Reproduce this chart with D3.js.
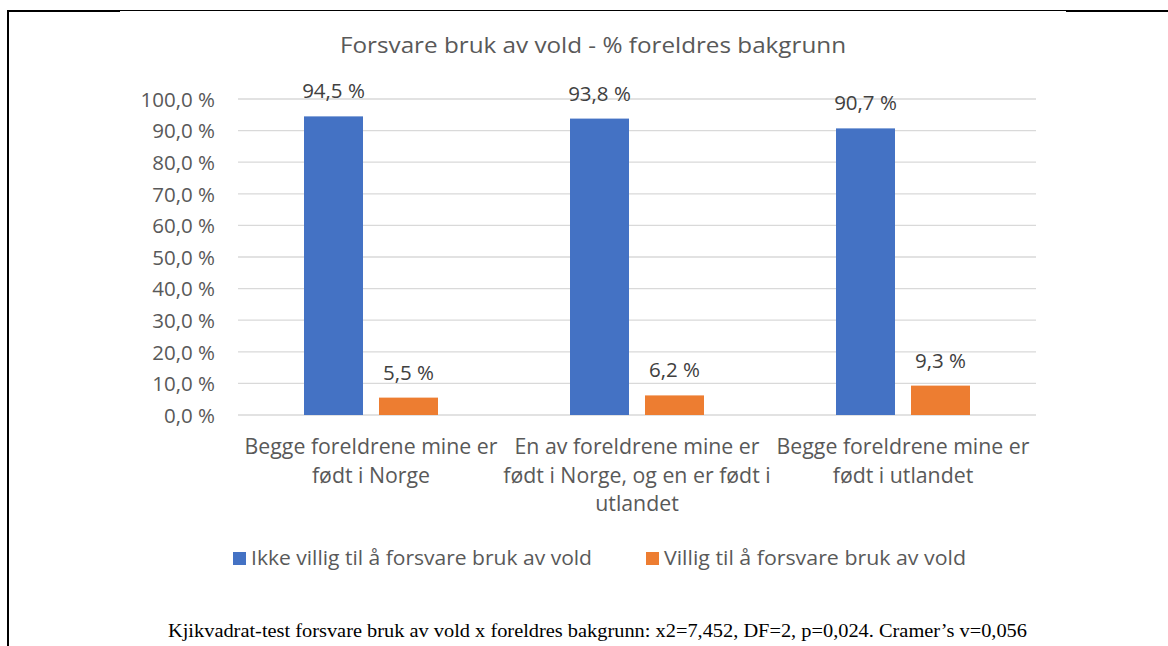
<!DOCTYPE html>
<html>
<head>
<meta charset="utf-8">
<script src="https://cdn.jsdelivr.net/npm/d3@7"></script>
<style>
  html, body { margin: 0; padding: 0; background: #fff; }
  svg { display: block; }
</style>
</head>
<body>
<svg id="chart" width="1168" height="646"></svg>
<script>
const title = "Forsvare bruk av vold - % foreldres bakgrunn";
const categories = [
  "Begge foreldrene mine er født i Norge",
  "En av foreldrene mine er født i Norge, og en er født i utlandet",
  "Begge foreldrene mine er født i utlandet"
];
const seriesNames = ["Ikke villig til å forsvare bruk av vold", "Villig til å forsvare bruk av vold"];
const ikkeVillig = [94.5, 93.8, 90.7];
const villig = [5.5, 6.2, 9.3];
const yTicks = [0, 10, 20, 30, 40, 50, 60, 70, 80, 90, 100];
const colors = ["#4472C4", "#ED7D31"];
const footnote = "Kjikvadrat-test forsvare bruk av vold x foreldres bakgrunn: x2=7,452, DF=2, p=0,024. Cramer\u2019s v=0,056";

const seriesValues = [ikkeVillig, villig];
const svg = d3.select("#chart");
const textColor = "#595959";
const font = "'Open Sans', sans-serif";

// page / chart border fragments
svg.append("line").attr("x1", 8).attr("x2", 8).attr("y1", 10).attr("y2", 646).attr("stroke", "#000").attr("stroke-width", 2);
svg.append("line").attr("x1", 7).attr("x2", 120).attr("y1", 11).attr("y2", 11).attr("stroke", "#000").attr("stroke-width", 2);
svg.append("line").attr("x1", 120).attr("x2", 1066).attr("y1", 10.5).attr("y2", 10.5).attr("stroke", "#000").attr("stroke-width", 1);
svg.append("line").attr("x1", 1066).attr("x2", 1168).attr("y1", 11).attr("y2", 11).attr("stroke", "#000").attr("stroke-width", 2);

const fmt = v => d3.format(".1f")(v).replace(".", ",") + " %";

const x0 = d3.scaleBand().domain(categories).range([238, 1036]).paddingInner(0).paddingOuter(0);
const x1 = d3.scaleBand().domain(seriesNames).range([0, x0.bandwidth()]).paddingInner(0.2133).paddingOuter(0.88);
const y = d3.scaleLinear().domain([0, 100]).range([415, 99]);

// title
svg.append("text").attr("x", 593).attr("y", 53).attr("text-anchor", "middle")
  .attr("font-family", font).attr("font-size", 22).attr("fill", textColor)
  .attr("textLength", 506).attr("lengthAdjust", "spacingAndGlyphs").text(title);

// gridlines
svg.append("g").selectAll("line").data(yTicks).join("line")
  .attr("x1", 238).attr("x2", 1036)
  .attr("y1", d => y(d)).attr("y2", d => y(d))
  .attr("stroke", "#d9d9d9").attr("stroke-width", 1.3);

// y axis labels
const yAxis = d3.axisLeft(y).tickValues(yTicks).tickFormat(fmt).tickSize(0).tickPadding(0);
const yg = svg.append("g").attr("transform", "translate(215,0)").call(yAxis);
yg.select(".domain").remove();
yg.selectAll("text").attr("font-family", font).attr("font-size", 20.5).attr("fill", textColor).attr("dy", "0.36em");

// bars
const groups = svg.append("g").selectAll("g").data(categories).join("g")
  .attr("transform", d => `translate(${x0(d)},0)`);
groups.each(function(cat, ci) {
  const g = d3.select(this);
  seriesNames.forEach((s, si) => {
    const v = seriesValues[si][ci];
    g.append("rect").attr("x", x1(s)).attr("width", x1.bandwidth())
      .attr("y", y(v)).attr("height", y(0) - y(v)).attr("fill", colors[si]);
    g.append("text").attr("x", x1(s) + x1.bandwidth() / 2).attr("y", y(v) - 18)
      .attr("text-anchor", "middle").attr("font-family", font).attr("font-size", 20.5)
      .attr("fill", "#404040").text(fmt(v));
  });
});

// category labels with wrapping
const catSize = 21.3;
const measurer = svg.append("text").attr("font-family", font).attr("font-size", catSize).attr("visibility", "hidden");
function wrap(str, maxW) {
  const words = str.split(" ");
  const lines = [];
  let cur = "";
  words.forEach(w => {
    const test = cur ? cur + " " + w : w;
    measurer.text(test);
    if (measurer.node().getComputedTextLength() > maxW && cur) {
      lines.push(cur); cur = w;
    } else cur = test;
  });
  if (cur) lines.push(cur);
  return lines;
}
categories.forEach(c => {
  const lines = wrap(c, 268);
  const t = svg.append("text").attr("text-anchor", "middle").attr("font-family", font)
    .attr("font-size", catSize).attr("fill", textColor);
  lines.forEach((l, i) => {
    t.append("tspan").attr("x", x0(c) + x0.bandwidth() / 2).attr("y", 454 + i * 28.5).text(l);
  });
});
measurer.remove();

// legend
const legendX = [233, 646];
const legendW = [341, 302];
seriesNames.forEach((s, i) => {
  svg.append("rect").attr("x", legendX[i]).attr("y", 552).attr("width", 13).attr("height", 13).attr("fill", colors[i]);
  svg.append("text").attr("x", legendX[i] + 18).attr("y", 565).attr("font-family", font)
    .attr("font-size", 20.5).attr("fill", textColor)
    .attr("textLength", legendW[i]).attr("lengthAdjust", "spacingAndGlyphs").text(s);
});

// footnote
svg.append("text").attr("x", 168).attr("y", 637).attr("font-family", "'Liberation Serif', serif")
  .attr("font-size", 18).attr("fill", "#000").attr("textLength", 859).attr("lengthAdjust", "spacingAndGlyphs")
  .text(footnote);
</script>
</body>
</html>
